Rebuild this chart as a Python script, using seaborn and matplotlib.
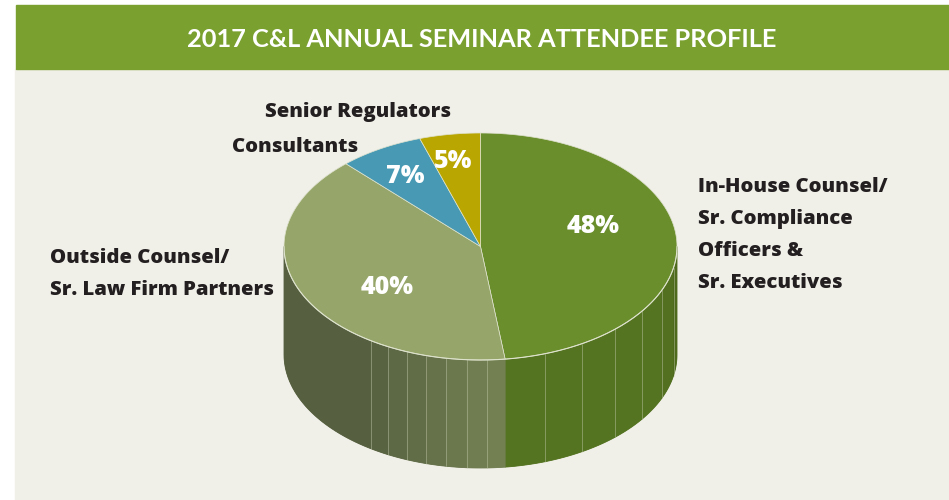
import seaborn as sns
import matplotlib
import matplotlib.pyplot as plt
from matplotlib import patches
import numpy as np

# data
labels = ["In-House Counsel/\nSr. Compliance\nOfficers &\nSr. Executives",
          "Outside Counsel/\nSr. Law Firm Partners",
          "Consultants",
          "Senior Regulators"]
shares = [48, 40, 7, 5]
title = "2017 C&L ANNUAL SEMINAR ATTENDEE PROFILE"

# colours: top face, side (dark end), side (light end)
TOP = ["#6a8e2c", "#96a66a", "#489ab4", "#baa600"]
SIDE_A = ["#557422", "#566040", "#3a7c92", "#96870a"]
SIDE_B = ["#4e6b1d", "#738152", "#3a7c92", "#96870a"]
HEADER = "#7aa130"
BG = "#f0efe8"
INK = "#231f20"

sns.set_style("white")
plt.rcParams['font.family'] = ['Open Sans', 'DejaVu Sans']

W, H = 949, 500
fig = plt.figure(figsize=(W / 100, H / 100), dpi=100)
ax = fig.add_axes([0, 0, 1, 1])
ax.set_xlim(0, W)
ax.set_ylim(H, 0)
ax.axis("off")

# panels
ax.add_patch(patches.Rectangle((15, 69), W - 15, H - 69, color=BG, zorder=0))
ax.add_patch(patches.Rectangle((16, 5), W - 16, 64, color=HEADER, zorder=1))
ax.text(482, 47, title, color="white", fontsize=18.3, fontweight="bold",
        ha="center", va="baseline", zorder=2, family=["Lato", "DejaVu Sans"])

# pie geometry (pixel space)
cx, cy, a, b, depth = 480.5, 246.5, 196.5, 113.5, 108


def ell(t):
    t = np.radians(t)
    return cx + a * np.cos(t), cy - b * np.sin(t)


def mix(c1, c2, f):
    c1 = np.array(matplotlib.colors.to_rgb(c1))
    c2 = np.array(matplotlib.colors.to_rgb(c2))
    return tuple(c1 + (c2 - c1) * f)


def side_poly(e0, e1):
    tt = np.linspace(e0, e1, 30)
    xs, ys = ell(tt)
    return np.column_stack([np.r_[xs, xs[::-1]], np.r_[ys, ys[::-1] + depth]])


angles = 90 - 360 * np.cumsum([0] + shares) / sum(shares)

# side walls (front half only, angles in [-180, 0])
for i in range(len(shares)):
    s_lo, s_hi = max(angles[i + 1], -180), min(angles[i], 0)
    if s_hi <= s_lo:
        continue
    # base wall, no seams
    ax.add_patch(patches.Polygon(side_poly(s_lo, s_hi), closed=True,
                                 color=SIDE_A[i], lw=0, zorder=3))
    if i == 1:
        start, step = -124, 6
    else:
        start, step = s_lo, 12
    edges = np.r_[s_lo, np.arange(start, s_hi, step)[1 if start == s_lo else 0:], s_hi]
    edges = np.unique(np.clip(edges, s_lo, s_hi))
    for k in range(len(edges) - 1):
        e0, e1 = edges[k], edges[k + 1]
        mid = (e0 + e1) / 2
        if i == 1:
            f = np.clip((mid + 124) / 38, 0, 1)
        else:
            f = np.clip((mid + 25) / 20, 0, 1)
        c = mix(SIDE_A[i], SIDE_B[i], f)
        ax.add_patch(patches.Polygon(side_poly(e0, e1), closed=True, facecolor=c,
                                     edgecolor=c, lw=0.6, zorder=3))
        if k > 0:
            x0, y0 = ell(e0)
            ax.plot([x0, x0], [y0, y0 + depth], color="#c9cfb4", lw=0.6, alpha=0.5, zorder=4)

# top face wedges
for i in range(len(shares)):
    tt = np.linspace(angles[i], angles[i + 1], 120)
    xs, ys = ell(tt)
    poly = np.column_stack([np.r_[cx, xs], np.r_[cy, ys]])
    ax.add_patch(patches.Polygon(poly, closed=True, facecolor=TOP[i],
                                 edgecolor="#dfe3cf", lw=0.5, zorder=5))

tt = np.linspace(-180, 0, 200)
xs, ys = ell(tt)
ax.plot(xs, ys, color="#dde2cc", lw=0.8, zorder=6)

# percentage labels (baseline positions)
pct_pos = [(593, 233), (387, 294), (405, 183), (453, 168)]
for s, (px, py) in zip(shares, pct_pos):
    ax.text(px, py, f"{s}%", color="white", fontsize=18, fontweight=800,
            ha="center", va="baseline", zorder=7)

# category labels: x, first baseline
lab_pos = [(698, 192), (50, 263), (232, 152), (265, 117)]
for lab, (lx, ly) in zip(labels, lab_pos):
    for k, line in enumerate(lab.split("\n")):
        ax.text(lx, ly + 32 * k, line, color=INK, fontsize=14.6, fontweight=800,
                ha="left", va="baseline", zorder=7)

fig.savefig("out.png", dpi=100, facecolor="white")
